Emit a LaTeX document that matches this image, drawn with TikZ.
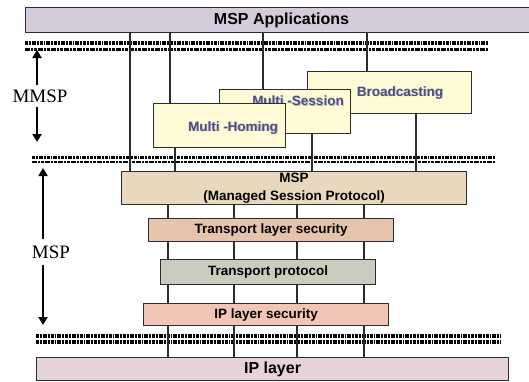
\documentclass[tikz,border=0pt]{standalone}
\usepackage{fontspec}
\setmainfont{Liberation Serif}
\setsansfont{Liberation Sans}
\usetikzlibrary{arrows.meta}

\definecolor{boxline}{RGB}{45,45,45}
\definecolor{appsfill}{RGB}{212,204,220}
\definecolor{multifill}{RGB}{255,250,214}
\definecolor{mspfill}{RGB}{233,216,190}
\definecolor{tlsfill}{RGB}{230,196,172}
\definecolor{tpfill}{RGB}{200,205,192}
\definecolor{ipsecfill}{RGB}{242,198,182}
\definecolor{ipfill}{RGB}{230,212,216}
\definecolor{multitext}{RGB}{78,78,128}
\definecolor{shadowgray}{RGB}{185,185,195}

% text with a soft grey drop shadow
\newcommand\shadetext[1]{\makebox[0pt][l]{\kern0.8pt\raisebox{-0.8pt}{\textcolor{shadowgray}{#1}}}#1}

\begin{document}
\begin{tikzpicture}[x=1pt,y=-1pt,
  layer/.style={draw=boxline, line width=1.1pt, inner sep=0pt, anchor=north west,
    font=\sffamily\bfseries\fontsize{13.5}{18}\selectfont, align=center},
  multibox/.style={layer, fill=multifill},
  multilabel/.style={font=\sffamily\bfseries\fontsize{13.5}{16}\selectfont, text=multitext, inner sep=0pt},
  wire/.style={draw=boxline, line width=1.1pt},
  bandthick/.style={line width=3.2pt, dash pattern=on 3pt off 1pt on 1.5pt off 1pt on 4pt off 1pt on 2pt off 1pt},
  bandthin/.style={line width=2.2pt, dash pattern=on 5pt off 1pt on 2pt off 1pt on 3pt off 1pt},
  sidelabel/.style={font=\fontsize{19}{21}\selectfont, inner sep=4pt},
  bigarrow/.style={line width=2pt, -{Triangle[length=8pt,width=9pt]}}
]
\useasboundingbox (0,0) rectangle (529,381);

% dashed separator bands
\draw[bandthick] (25,43) -- (489,43);
\draw[bandthin]  (25,49.5) -- (489,49.5);
\draw[bandthick] (32,157.5) -- (495,157.5);
\draw[bandthin]  (32,162) -- (495,162);
\draw[bandthick] (36,336) -- (501,336);
\draw[bandthick] (36,342) -- (501,342);

% protocol stack
\node[layer, fill=appsfill, minimum width=512pt, minimum height=25pt,
  font=\sffamily\bfseries\fontsize{16}{18}\selectfont] (apps) at (25,7) {MSP Applications};

\node[multibox, minimum width=164pt, minimum height=42pt] (bc) at (307,71) {};
\node[multilabel] (bc-text) at (400,93) {\shadetext{Broadcasting}};
\node[multibox, minimum width=131pt, minimum height=44pt] (ms) at (219,89) {};
\node[multilabel] (ms-text) at (298,101) {\shadetext{Multi -Session}};
\node[multibox, minimum width=132pt, minimum height=44pt] (mh) at (153,103) {};
\node[multilabel] (mh-text) at (233,128) {\shadetext{Multi -Homing}};

\node[layer, fill=mspfill, minimum width=345pt, minimum height=33pt] (msp) at (121,171)
  {MSP\\(Managed Session Protocol)};
\node[layer, fill=tlsfill, minimum width=245pt, minimum height=23pt] (tls) at (148,218)
  {\raisebox{-2pt}{Transport layer security}};
\node[layer, fill=tpfill, minimum width=215pt, minimum height=25pt] (tp) at (160,259)
  {\raisebox{-2pt}{Transport protocol}};
\node[layer, fill=ipsecfill, minimum width=245pt, minimum height=22pt] (ipsec) at (143,303)
  {\raisebox{-2pt}{IP layer security}};
\node[layer, fill=ipfill, minimum width=472pt, minimum height=23pt,
  font=\sffamily\bfseries\fontsize{16}{18}\selectfont] (ip) at (36,357)
  {\raisebox{-2pt}{IP layer}};

% column positions of the connectors
\coordinate (c1) at (130,0);
\coordinate (c2) at (170,0);
\coordinate (c3) at (263,0);
\coordinate (c4) at (367,0);
\coordinate (d1) at (175,0);
\coordinate (d2) at (312,0);
\coordinate (d3) at (416,0);
\coordinate (e1) at (168,0);
\coordinate (e2) at (234,0);
\coordinate (e3) at (297,0);
\coordinate (e4) at (364,0);

% connectors from the applications down
\draw[wire] (c1 |- apps.south) -- (c1 |- msp.north);
\draw[wire] (c2 |- apps.south) -- (c2 |- mh.north);
\draw[wire] (c3 |- apps.south) -- (c3 |- ms.north);
\draw[wire] (c4 |- apps.south) -- (c4 |- bc.north);
\draw[wire] (d1 |- mh.south) -- (d1 |- msp.north);
\draw[wire] (d2 |- ms.south) -- (d2 |- msp.north);
\draw[wire] (d3 |- bc.south) -- (d3 |- msp.north);

% connectors through the lower stack
\foreach \c in {e1,e2,e3,e4}{
  \draw[wire] (\c |- msp.south) -- (\c |- tls.north);
  \draw[wire] (\c |- tls.south) -- (\c |- tp.north);
  \draw[wire] (\c |- tp.south) -- (\c |- ipsec.north);
  \draw[wire] (\c |- ipsec.south) -- (\c |- ip.north);
}

% span labels with arrows
\node[sidelabel] (mmsp) at (40,96) {MMSP};
\coordinate (mmsp-up) at (37,50);
\coordinate (mmsp-down) at (37,142);
\draw[bigarrow] (mmsp.north -| mmsp-up) -- (mmsp-up);
\draw[bigarrow] (mmsp.south -| mmsp-down) -- (mmsp-down);

\node[sidelabel, inner sep=6pt] (msplabel) at (51,252) {MSP};
\coordinate (msp-up) at (43,168);
\coordinate (msp-down) at (43,325);
\draw[bigarrow] (msplabel.north -| msp-up) -- (msp-up);
\draw[bigarrow] (msplabel.south -| msp-down) -- (msp-down);
\end{tikzpicture}
\end{document}
